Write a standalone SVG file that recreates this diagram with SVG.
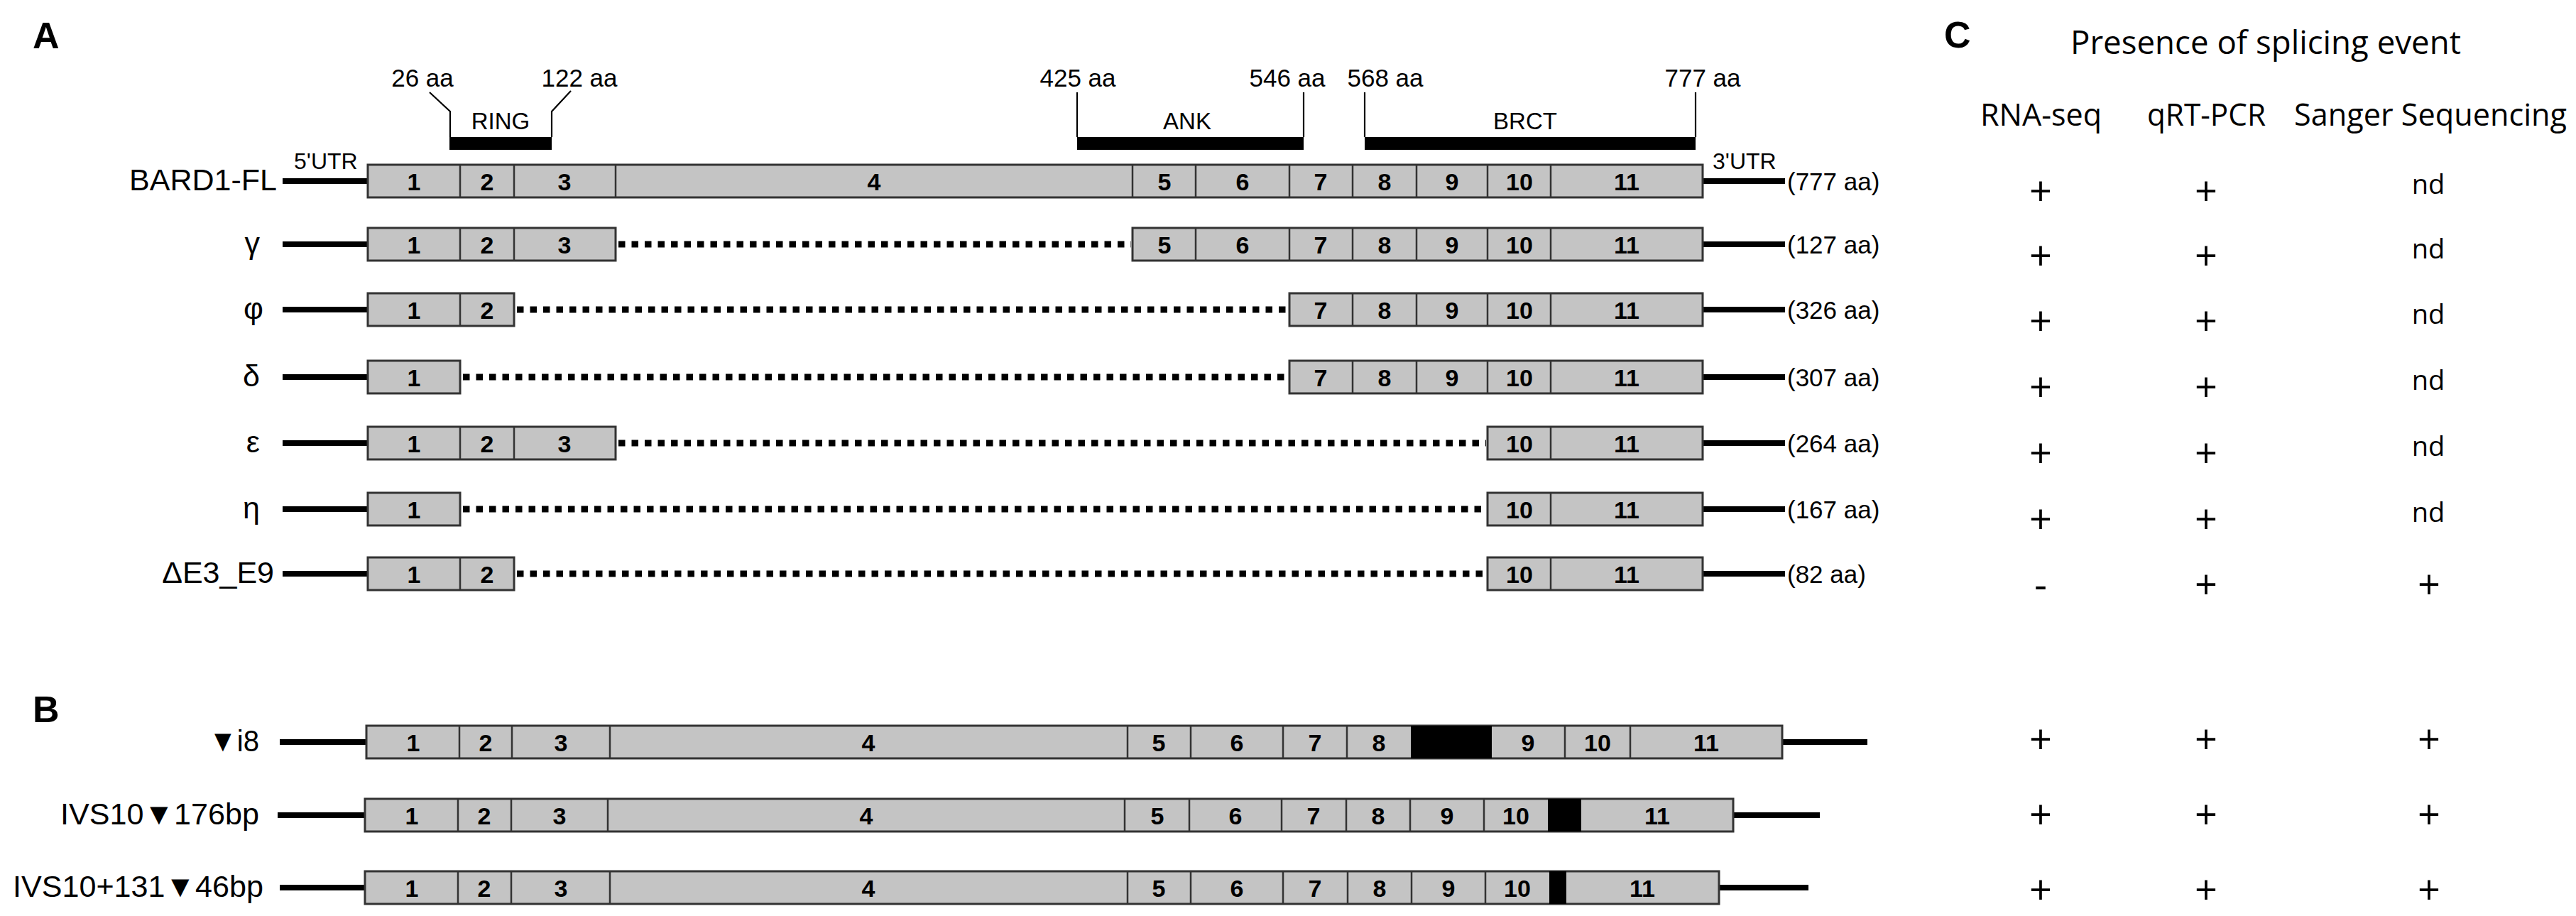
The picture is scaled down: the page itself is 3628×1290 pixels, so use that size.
<svg xmlns="http://www.w3.org/2000/svg" width="3628" height="1290" viewBox="0 0 3628 1290">
<style>
.exon{fill:#c4c4c4;stroke:#333;stroke-width:3}
.blk{fill:#000}
.dv{stroke:#333;stroke-width:2.5}
.utr{stroke:#000;stroke-width:8;fill:none}
.skip{stroke:#000;stroke-width:9;stroke-dasharray:9.5 9;fill:none}
.brk{stroke:#000;stroke-width:2.2;fill:none}
.num{font-family:'Liberation Sans',Arial,sans-serif;font-weight:bold;font-size:34px;text-anchor:middle;fill:#000}
.lbl{font-family:'Liberation Sans',Arial,sans-serif;font-size:43px;text-anchor:end;fill:#000}
.lbs{font-family:'Liberation Sans',Arial,sans-serif;font-size:43px;fill:#000}
.aa{font-family:'Liberation Sans',Arial,sans-serif;font-size:35px;fill:#000}
.aac{font-family:'Liberation Sans',Arial,sans-serif;font-size:35px;text-anchor:middle;fill:#000}
.dom{font-family:'Liberation Sans',Arial,sans-serif;font-size:33px;text-anchor:middle;fill:#000}
.utrt{font-family:'Liberation Sans',Arial,sans-serif;font-size:32px;fill:#000}
.pan{font-family:'Liberation Sans',Arial,sans-serif;font-weight:bold;font-size:52px;fill:#000}
.ttl{font-family:'Open Sans',sans-serif;font-size:45px;fill:#000}
.hdr{font-family:'Open Sans',sans-serif;font-size:43px;fill:#000}
.pm{font-family:'Open Sans',sans-serif;font-size:56px;text-anchor:middle;fill:#000}
.nd{font-family:'Open Sans',sans-serif;font-size:38px;text-anchor:middle;fill:#000}
</style>

<g id="panel-labels">
<text class="pan" x="46" y="68">A</text>
<text class="pan" x="46" y="1017">B</text>
<text class="pan" x="2738" y="67">C</text>
</g>

<g id="domains">
<polyline class="brk" points="605,130 634,157 634,193"/>
<polyline class="brk" points="804,128 777,157 777,193"/>
<rect class="blk" x="633" y="193" width="144" height="18"/>
<text class="aac" x="595" y="122">26 aa</text>
<text class="aac" x="816" y="122">122 aa</text>
<text class="dom" x="705" y="182">RING</text>
<line class="brk" x1="1517" y1="130" x2="1517" y2="193"/>
<line class="brk" x1="1836" y1="130" x2="1836" y2="193"/>
<rect class="blk" x="1517" y="193" width="319" height="18"/>
<text class="aac" x="1518" y="122">425 aa</text>
<text class="aac" x="1813" y="122">546 aa</text>
<text class="dom" x="1672" y="182">ANK</text>
<line class="brk" x1="1922" y1="130" x2="1922" y2="193"/>
<line class="brk" x1="2388" y1="130" x2="2388" y2="193"/>
<rect class="blk" x="1922" y="193" width="466" height="18"/>
<text class="aac" x="1951" y="122">568 aa</text>
<text class="aac" x="2398" y="122">777 aa</text>
<text class="dom" x="2148" y="182">BRCT</text>
</g>

<g id="connectors">
<line class="utr" x1="398" y1="255" x2="518" y2="255"/>
<line class="utr" x1="2398" y1="255" x2="2514" y2="255"/>
<line class="utr" x1="398" y1="344" x2="518" y2="344"/>
<line class="skip" x1="871" y1="344" x2="1593" y2="344"/>
<line class="utr" x1="2398" y1="344" x2="2514" y2="344"/>
<line class="utr" x1="398" y1="436" x2="518" y2="436"/>
<line class="skip" x1="728" y1="436" x2="1814" y2="436"/>
<line class="utr" x1="2398" y1="436" x2="2514" y2="436"/>
<line class="utr" x1="398" y1="531" x2="518" y2="531"/>
<line class="skip" x1="652" y1="531" x2="1814" y2="531"/>
<line class="utr" x1="2398" y1="531" x2="2514" y2="531"/>
<line class="utr" x1="398" y1="624" x2="518" y2="624"/>
<line class="skip" x1="871" y1="624" x2="2093" y2="624"/>
<line class="utr" x1="2398" y1="624" x2="2514" y2="624"/>
<line class="utr" x1="398" y1="717" x2="518" y2="717"/>
<line class="skip" x1="652" y1="717" x2="2093" y2="717"/>
<line class="utr" x1="2398" y1="717" x2="2514" y2="717"/>
<line class="utr" x1="398" y1="808" x2="518" y2="808"/>
<line class="skip" x1="728" y1="808" x2="2093" y2="808"/>
<line class="utr" x1="2398" y1="808" x2="2514" y2="808"/>
<line class="utr" x1="394" y1="1045" x2="516" y2="1045"/>
<line class="utr" x1="2510" y1="1045" x2="2630" y2="1045"/>
<line class="utr" x1="391" y1="1148" x2="514" y2="1148"/>
<line class="utr" x1="2441" y1="1148" x2="2563" y2="1148"/>
<line class="utr" x1="394" y1="1250" x2="514" y2="1250"/>
<line class="utr" x1="2421" y1="1250" x2="2547" y2="1250"/>
</g>

<g id="bard1-fl">
<text class="lbl" x="390" y="268">BARD1-FL</text>
<text class="utrt" x="414" y="238">5'UTR</text>
<text class="utrt" x="2412" y="238">3'UTR</text>
<rect class="exon" x="518" y="232" width="1880" height="46"/>
<path class="dv" d="M648 232V278M724 232V278M867 232V278M1595 232V278M1684 232V278M1816 232V278M1905 232V278M1995 232V278M2095 232V278M2184 232V278"/>
<text class="num" y="268"><tspan x="583">1</tspan><tspan x="686">2</tspan><tspan x="795">3</tspan><tspan x="1231">4</tspan><tspan x="1640">5</tspan><tspan x="1750">6</tspan><tspan x="1860">7</tspan><tspan x="1950">8</tspan><tspan x="2045">9</tspan><tspan x="2140">10</tspan><tspan x="2291">11</tspan></text>
<text class="aa" x="2517" y="268">(777 aa)</text>
</g>

<g id="gamma">
<text class="lbl" x="366" y="357">γ</text>
<rect class="exon" x="518" y="321" width="349" height="46"/>
<rect class="exon" x="1595" y="321" width="803" height="46"/>
<path class="dv" d="M648 321V367M724 321V367M1684 321V367M1816 321V367M1905 321V367M1995 321V367M2095 321V367M2184 321V367"/>
<text class="num" y="357"><tspan x="583">1</tspan><tspan x="686">2</tspan><tspan x="795">3</tspan><tspan x="1640">5</tspan><tspan x="1750">6</tspan><tspan x="1860">7</tspan><tspan x="1950">8</tspan><tspan x="2045">9</tspan><tspan x="2140">10</tspan><tspan x="2291">11</tspan></text>
<text class="aa" x="2517" y="357">(127 aa)</text>
</g>

<g id="phi">
<text class="lbl" x="371" y="449">φ</text>
<rect class="exon" x="518" y="413" width="206" height="46"/>
<rect class="exon" x="1816" y="413" width="582" height="46"/>
<path class="dv" d="M648 413V459M1905 413V459M1995 413V459M2095 413V459M2184 413V459"/>
<text class="num" y="449"><tspan x="583">1</tspan><tspan x="686">2</tspan><tspan x="1860">7</tspan><tspan x="1950">8</tspan><tspan x="2045">9</tspan><tspan x="2140">10</tspan><tspan x="2291">11</tspan></text>
<text class="aa" x="2517" y="449">(326 aa)</text>
</g>

<g id="delta">
<text class="lbl" x="366" y="544">δ</text>
<rect class="exon" x="518" y="508" width="130" height="46"/>
<rect class="exon" x="1816" y="508" width="582" height="46"/>
<path class="dv" d="M1905 508V554M1995 508V554M2095 508V554M2184 508V554"/>
<text class="num" y="544"><tspan x="583">1</tspan><tspan x="1860">7</tspan><tspan x="1950">8</tspan><tspan x="2045">9</tspan><tspan x="2140">10</tspan><tspan x="2291">11</tspan></text>
<text class="aa" x="2517" y="544">(307 aa)</text>
</g>

<g id="epsilon">
<text class="lbl" x="366" y="637">ε</text>
<rect class="exon" x="518" y="601" width="349" height="46"/>
<rect class="exon" x="2095" y="601" width="303" height="46"/>
<path class="dv" d="M648 601V647M724 601V647M2184 601V647"/>
<text class="num" y="637"><tspan x="583">1</tspan><tspan x="686">2</tspan><tspan x="795">3</tspan><tspan x="2140">10</tspan><tspan x="2291">11</tspan></text>
<text class="aa" x="2517" y="637">(264 aa)</text>
</g>

<g id="eta">
<text class="lbl" x="366" y="730">η</text>
<rect class="exon" x="518" y="694" width="130" height="46"/>
<rect class="exon" x="2095" y="694" width="303" height="46"/>
<path class="dv" d="M2184 694V740"/>
<text class="num" y="730"><tspan x="583">1</tspan><tspan x="2140">10</tspan><tspan x="2291">11</tspan></text>
<text class="aa" x="2517" y="730">(167 aa)</text>
</g>

<g id="dE3-E9">
<text class="lbl" x="386" y="821">ΔE3_E9</text>
<rect class="exon" x="518" y="785" width="206" height="46"/>
<rect class="exon" x="2095" y="785" width="303" height="46"/>
<path class="dv" d="M648 785V831M2184 785V831"/>
<text class="num" y="821"><tspan x="583">1</tspan><tspan x="686">2</tspan><tspan x="2140">10</tspan><tspan x="2291">11</tspan></text>
<text class="aa" x="2517" y="821">(82 aa)</text>
</g>

<g id="i8">
<text class="lbs" x="294" y="1058" textLength="71" lengthAdjust="spacingAndGlyphs">▼i8</text>
<rect class="exon" x="516" y="1022" width="1994" height="46"/>
<rect class="blk" x="1987" y="1022" width="114" height="46"/>
<path class="dv" d="M647 1022V1068M721 1022V1068M859 1022V1068M1588 1022V1068M1677 1022V1068M1807 1022V1068M1897 1022V1068M2204 1022V1068M2296 1022V1068"/>
<text class="num" y="1058"><tspan x="582">1</tspan><tspan x="684">2</tspan><tspan x="790">3</tspan><tspan x="1223">4</tspan><tspan x="1632">5</tspan><tspan x="1742">6</tspan><tspan x="1852">7</tspan><tspan x="1942">8</tspan><tspan x="2152">9</tspan><tspan x="2250">10</tspan><tspan x="2403">11</tspan></text>
</g>

<g id="ivs10-176">
<text class="lbs" x="85" y="1161" textLength="280" lengthAdjust="spacingAndGlyphs">IVS10▼176bp</text>
<rect class="exon" x="514" y="1125" width="1927" height="46"/>
<rect class="blk" x="2180" y="1125" width="47" height="46"/>
<path class="dv" d="M645 1125V1171M720 1125V1171M856 1125V1171M1584 1125V1171M1675 1125V1171M1805 1125V1171M1896 1125V1171M1986 1125V1171M2090 1125V1171"/>
<text class="num" y="1161"><tspan x="580">1</tspan><tspan x="682">2</tspan><tspan x="788">3</tspan><tspan x="1220">4</tspan><tspan x="1630">5</tspan><tspan x="1740">6</tspan><tspan x="1850">7</tspan><tspan x="1941">8</tspan><tspan x="2038">9</tspan><tspan x="2135">10</tspan><tspan x="2334">11</tspan></text>
</g>

<g id="ivs10-131-46">
<text class="lbs" x="18" y="1263" textLength="353" lengthAdjust="spacingAndGlyphs">IVS10+131▼46bp</text>
<rect class="exon" x="514" y="1227" width="1907" height="46"/>
<rect class="blk" x="2182" y="1227" width="24" height="46"/>
<path class="dv" d="M645 1227V1273M720 1227V1273M859 1227V1273M1588 1227V1273M1677 1227V1273M1807 1227V1273M1898 1227V1273M1988 1227V1273M2092 1227V1273"/>
<text class="num" y="1263"><tspan x="580">1</tspan><tspan x="682">2</tspan><tspan x="790">3</tspan><tspan x="1223">4</tspan><tspan x="1632">5</tspan><tspan x="1742">6</tspan><tspan x="1852">7</tspan><tspan x="1943">8</tspan><tspan x="2040">9</tspan><tspan x="2137">10</tspan><tspan x="2313">11</tspan></text>
</g>

<g id="table">
<text class="ttl" x="2916" y="76" textLength="550" lengthAdjust="spacingAndGlyphs">Presence of splicing event</text>
<text class="hdr" x="2789" y="177" textLength="171" lengthAdjust="spacingAndGlyphs">RNA-seq</text>
<text class="hdr" x="3024" y="177" textLength="167" lengthAdjust="spacingAndGlyphs">qRT-PCR</text>
<text class="hdr" x="3231" y="177" textLength="384" lengthAdjust="spacingAndGlyphs">Sanger Sequencing</text>
<g class="cells">
<text class="pm" x="2874" y="289">+</text><text class="pm" x="3107" y="289">+</text><text class="nd" x="3420" y="273">nd</text>
<text class="pm" x="2874" y="380">+</text><text class="pm" x="3107" y="380">+</text><text class="nd" x="3420" y="364">nd</text>
<text class="pm" x="2874" y="472">+</text><text class="pm" x="3107" y="472">+</text><text class="nd" x="3420" y="456">nd</text>
<text class="pm" x="2874" y="565">+</text><text class="pm" x="3107" y="565">+</text><text class="nd" x="3420" y="549">nd</text>
<text class="pm" x="2874" y="658">+</text><text class="pm" x="3107" y="658">+</text><text class="nd" x="3420" y="642">nd</text>
<text class="pm" x="2874" y="751">+</text><text class="pm" x="3107" y="751">+</text><text class="nd" x="3420" y="735">nd</text>
<text class="pm" x="2874" y="843">-</text><text class="pm" x="3107" y="843">+</text><text class="pm" x="3421" y="843">+</text>
<text class="pm" x="2874" y="1061">+</text><text class="pm" x="3107" y="1061">+</text><text class="pm" x="3421" y="1061">+</text>
<text class="pm" x="2874" y="1167">+</text><text class="pm" x="3107" y="1167">+</text><text class="pm" x="3421" y="1167">+</text>
<text class="pm" x="2874" y="1273">+</text><text class="pm" x="3107" y="1273">+</text><text class="pm" x="3421" y="1273">+</text>
</g>
</g>
</svg>
